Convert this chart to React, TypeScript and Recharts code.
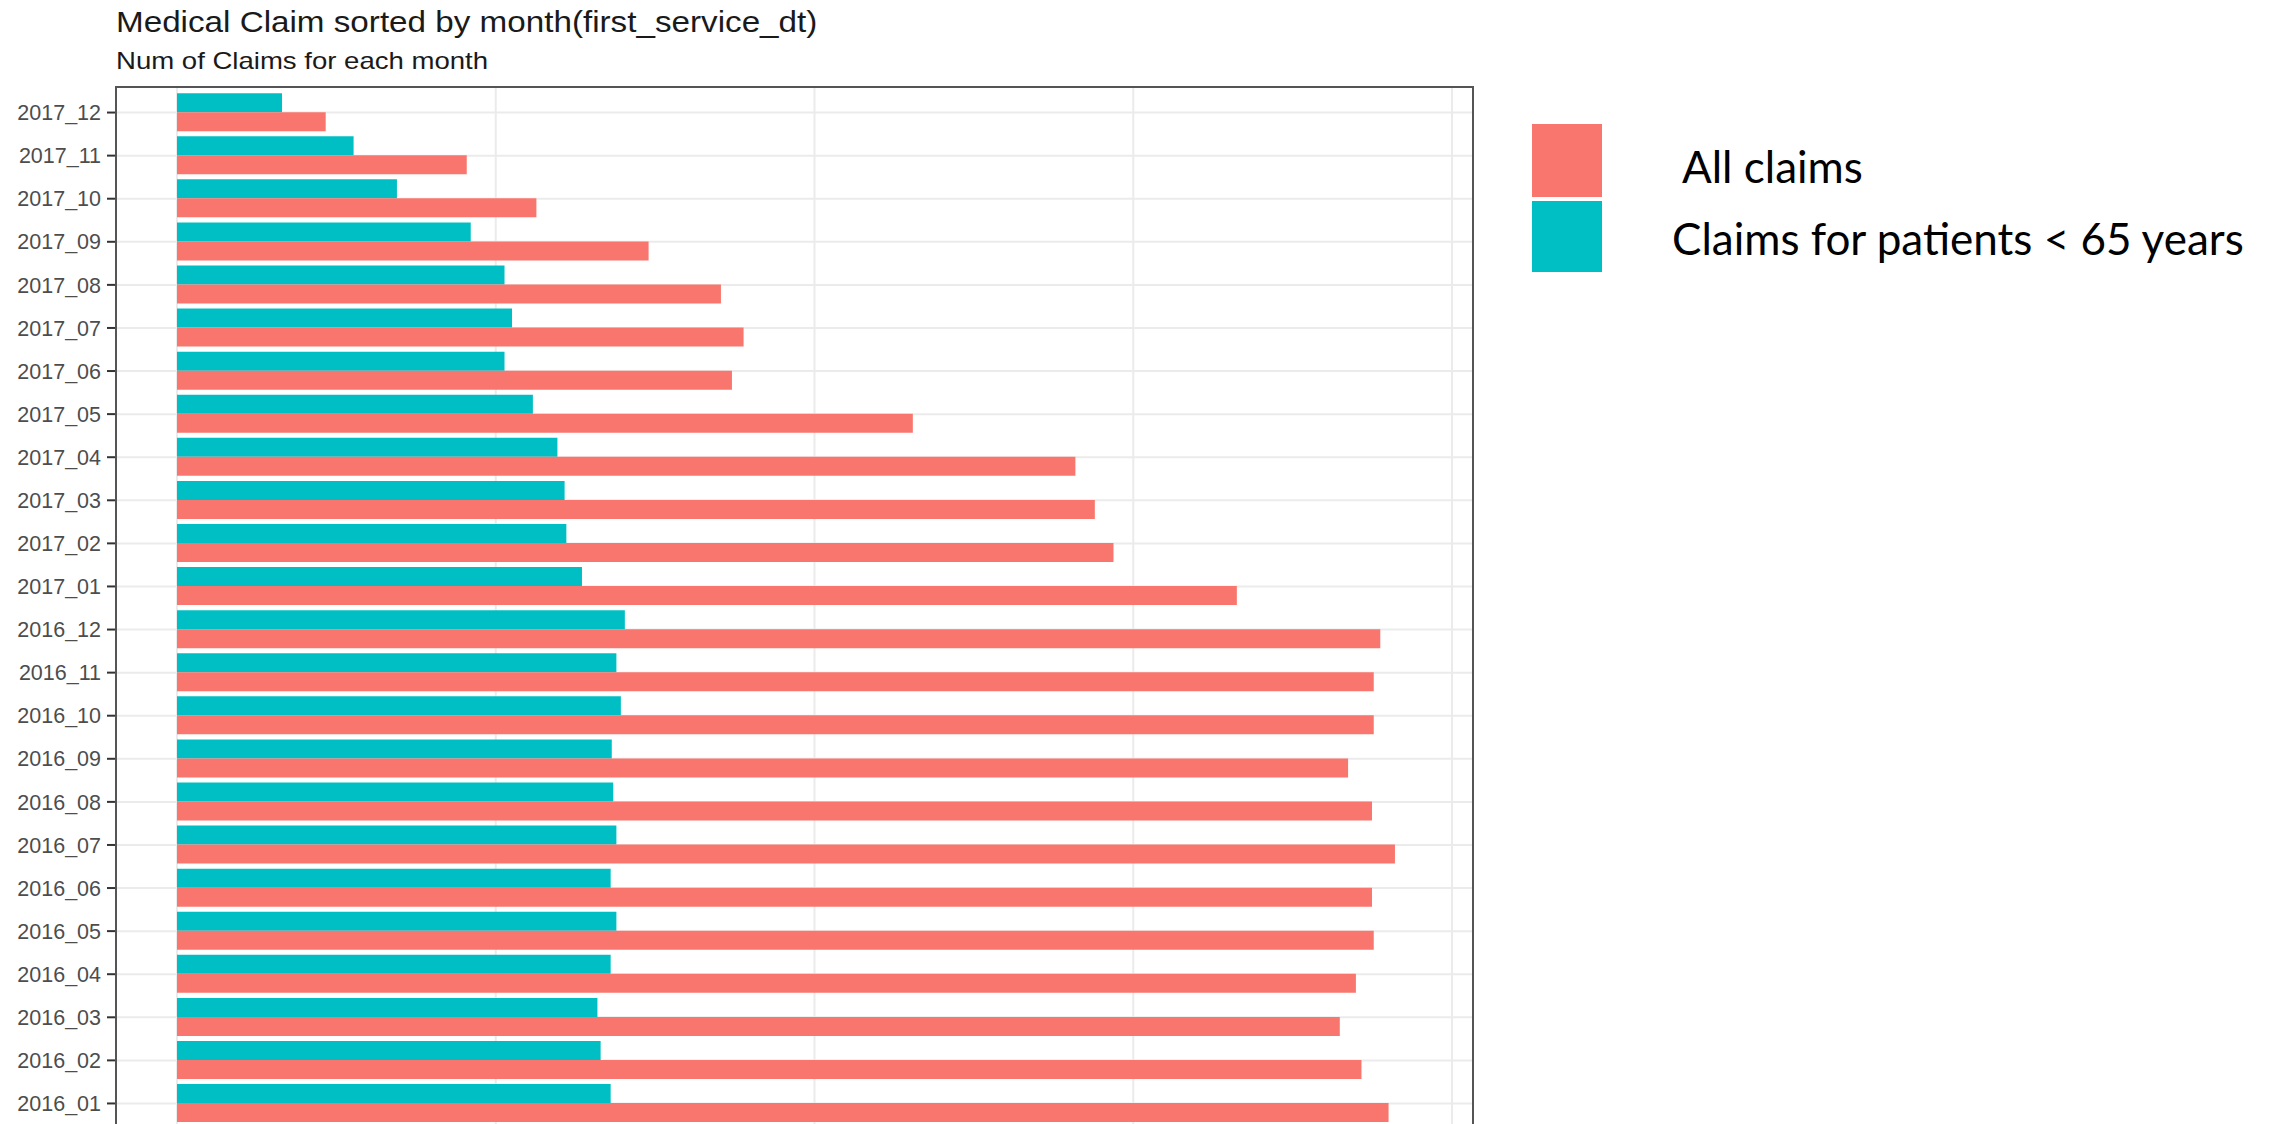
import { BarChart, Bar, XAxis, YAxis, CartesianGrid } from 'recharts'

// months, top to bottom as in the plot
const months = [
  '2017_12', '2017_11', '2017_10', '2017_09', '2017_08', '2017_07',
  '2017_06', '2017_05', '2017_04', '2017_03', '2017_02', '2017_01',
  '2016_12', '2016_11', '2016_10', '2016_09', '2016_08', '2016_07',
  '2016_06', '2016_05', '2016_04', '2016_03', '2016_02', '2016_01',
]

// number of claims (axis labels are cut off)
const allClaims = [
  9330, 18180, 22550, 29590, 34130, 35550,
  34820, 46170, 56370, 57590, 58760, 66500,
  75500, 75090, 75090, 73480, 74980, 76420,
  74980, 75090, 73970, 72960, 74320, 76020,
]

const under65Claims = [
  6590, 11080, 13800, 18430, 20550, 21020,
  20550, 22330, 23870, 24320, 24430, 25410,
  28100, 27570, 27850, 27280, 27370, 27570,
  27210, 27570, 27210, 26380, 26580, 27210,
]

const majorTicks = [0, 20000, 40000, 60000, 80000]
const minorTicks = [10000, 30000, 50000, 70000]

const chartData = months.map((m, i) => ({
  month: m,
  all: allClaims[i],
  under65: under65Claims[i],
}))

const RED = '#F8766D'
const TEAL = '#00BFC4'

export default function App() {
  return (
    <div
      style={{
        position: 'fixed',
        left: 0,
        top: 0,
        width: 2271,
        height: 1124,
        overflow: 'hidden',
        background: '#fff',
        fontFamily: '"Liberation Sans", Arial, sans-serif',
      }}
    >
      <div style={{ position: 'absolute', left: 116, top: 7, fontSize: 30, lineHeight: 1, color: '#1a1a1a', whiteSpace: 'nowrap', transform: 'scaleX(1.107)', transformOrigin: 'left top' }}>
        Medical Claim sorted by month(first_service_dt)
      </div>
      <div style={{ position: 'absolute', left: 116, top: 49, fontSize: 24, lineHeight: 1, color: '#1a1a1a', whiteSpace: 'nowrap', transform: 'scaleX(1.148)', transformOrigin: 'left top' }}>
        Num of Claims for each month
      </div>

      <div style={{ position: 'absolute', left: 0, top: 0 }}>
        <BarChart
          width={2271}
          height={1200}
          data={chartData}
          layout="vertical"
          margin={{ top: 87, right: 798, bottom: 71, left: 0 }}
          barCategoryGap="5%"
          barGap={0}
        >
          <XAxis xAxisId="major" type="number" hide domain={[0, 80000]} ticks={majorTicks} padding={{ left: 61, right: 21 }} />
          <XAxis xAxisId="minor" type="number" hide domain={[0, 80000]} ticks={minorTicks} padding={{ left: 61, right: 21 }} />
          <YAxis
            type="category"
            dataKey="month"
            width={116}
            interval={0}
            axisLine={false}
            tickSize={9}
            tickMargin={6}
            tickLine={{ stroke: '#333', strokeWidth: 2 }}
            tick={{ fill: '#4D4D4D', fontSize: 21.5, fontFamily: '"Liberation Sans", Arial, sans-serif' }}
            padding={{ top: 4, bottom: 4 }}
          />
          <CartesianGrid xAxisId="minor" horizontal={false} stroke="#EEEEEE" strokeWidth={1.2} />
          <CartesianGrid xAxisId="major" stroke="#EBEBEB" strokeWidth={2} />
          <Bar xAxisId="major" dataKey="under65" fill={TEAL} isAnimationActive={false} />
          <Bar xAxisId="major" dataKey="all" fill={RED} isAnimationActive={false} />
        </BarChart>
      </div>

      {/* panel border */}
      <div
        style={{
          position: 'absolute',
          left: 115,
          top: 86,
          width: 1359,
          height: 1200,
          border: '2px solid #555',
          boxSizing: 'border-box',
          pointerEvents: 'none',
        }}
      />

      {/* legend */}
      <div style={{ position: 'absolute', left: 1532, top: 124, width: 70, height: 73, background: RED }} />
      <div style={{ position: 'absolute', left: 1532, top: 201, width: 70, height: 71, background: TEAL }} />
      <div style={{ position: 'absolute', left: 1682, top: 144, fontSize: 44, lineHeight: 1, fontFamily: 'Lato, sans-serif', color: '#000', whiteSpace: 'nowrap' }}>
        All claims
      </div>
      <div style={{ position: 'absolute', left: 1672, top: 216, fontSize: 44, lineHeight: 1, fontFamily: 'Lato, sans-serif', color: '#000', whiteSpace: 'nowrap' }}>
        Claims for patients &lt; 65 years
      </div>
    </div>
  )
}
